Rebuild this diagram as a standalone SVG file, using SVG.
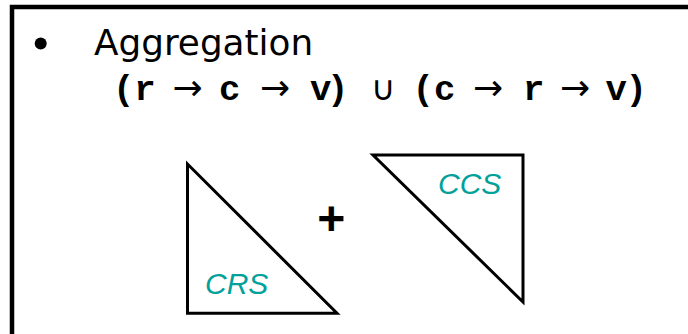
<svg xmlns="http://www.w3.org/2000/svg" width="688" height="334" viewBox="0 0 688 334">
  <defs>
    <polygon id="triShape" points="0,0"/>
  </defs>
  <rect x="0" y="0" width="688" height="334" fill="#ffffff"/>
  <g id="frame">
    <rect x="12" y="7" width="720" height="400" fill="none" stroke="#000" stroke-width="4.5"/>
  </g>
  <g id="title">
    <circle cx="40.7" cy="43.5" r="6" fill="#000"/>
    <text x="94" y="54.5" font-family="DejaVu Sans" font-size="35.8" fill="#000">Aggregation</text>
  </g>
  <g id="formula">
    <text font-family="Liberation Mono" font-weight="bold" font-size="35.7" fill="#000" y="100"><tspan x="112.9 134.3">(r</tspan><tspan font-family="DejaVu Sans" font-weight="normal" font-size="36" x="172.5">→</tspan><tspan x="219">c</tspan><tspan font-family="DejaVu Sans" font-weight="normal" font-size="36" x="260">→</tspan><tspan x="310 327">v)</tspan><tspan font-family="DejaVu Sans" font-weight="normal" font-size="34" x="371">∪</tspan><tspan x="412.5 433.9">(c</tspan><tspan font-family="DejaVu Sans" font-weight="normal" font-size="36" x="473">→</tspan><tspan x="523">r</tspan><tspan font-family="DejaVu Sans" font-weight="normal" font-size="36" x="560">→</tspan><tspan x="605.5 625.5">v)</tspan></text>
  </g>
  <g id="crs" fill="#ffffff" stroke="#000000" stroke-width="3">
    <polygon points="187.5,164 187.5,313.3 337,313.3"/>
    <text x="205" y="293.7" stroke="none" font-family="Liberation Sans" font-style="italic" font-size="30" fill="#00A19A">CRS</text>
  </g>
  <g id="plus">
    <text x="331.3" y="235" text-anchor="middle" font-family="Liberation Sans" font-weight="bold" font-size="48" fill="#000">+</text>
  </g>
  <g id="ccs" fill="#ffffff" stroke="#000000" stroke-width="3">
    <polygon points="373,155 523,155 523,302"/>
    <text x="438" y="194" stroke="none" font-family="Liberation Sans" font-style="italic" font-size="30" fill="#00A19A">CCS</text>
  </g>
</svg>
